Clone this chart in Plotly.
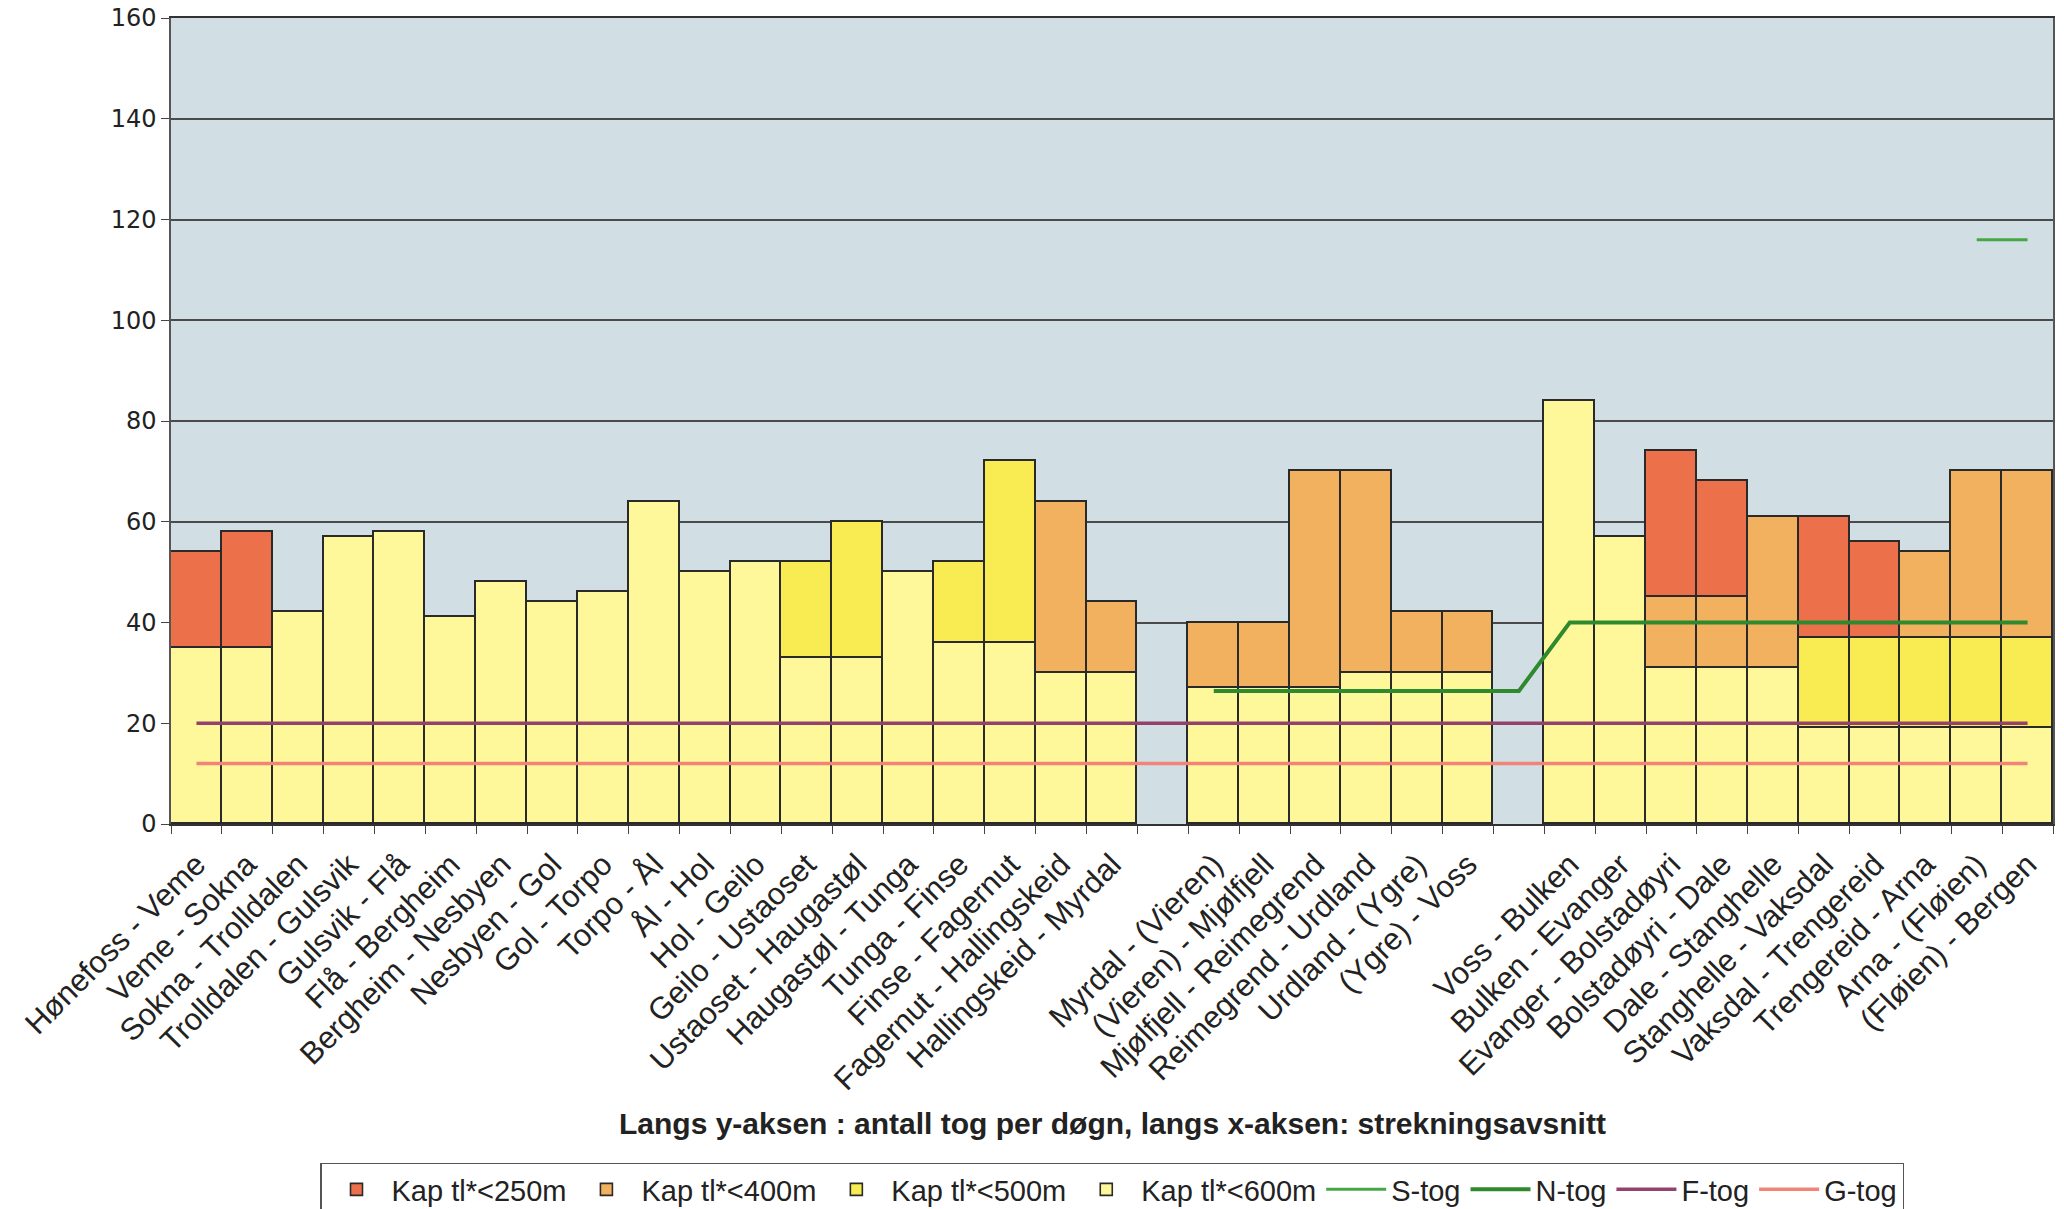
import plotly.graph_objects as go

# strekningsavsnitt (tomme kategorier = mellomrom i grafen)
strekninger = [
    "Hønefoss - Veme", "Veme - Sokna", "Sokna - Trolldalen", "Trolldalen - Gulsvik",
    "Gulsvik - Flå", "Flå - Bergheim", "Bergheim - Nesbyen", "Nesbyen - Gol",
    "Gol - Torpo", "Torpo - Ål", "Ål - Hol", "Hol - Geilo", "Geilo - Ustaoset",
    "Ustaoset - Haugastøl", "Haugastøl - Tunga", "Tunga - Finse", "Finse - Fagernut",
    "Fagernut - Hallingskeid", "Hallingskeid - Myrdal", " ",
    "Myrdal - (Vieren)", "(Vieren) - Mjølfjell", "Mjølfjell - Reimegrend",
    "Reimegrend - Urdland", "Urdland - (Ygre)", "(Ygre) - Voss", "  ",
    "Voss - Bulken", "Bulken - Evanger", "Evanger - Bolstadøyri", "Bolstadøyri - Dale",
    "Dale - Stanghelle", "Stanghelle - Vaksdal", "Vaksdal - Trengereid",
    "Trengereid - Arna", "Arna - (Fløien)", "(Fløien) - Bergen",
]

N = None
# segmenthøyder, nederst til øverst
kap600 = [35, 35, 42, 57, 58, 41, 48, 44, 46, 64, 50, 52, 33, 33, 50, 36, 36, 30, 30, N,
          27, 27, 27, 30, 30, 30, N, 84, 57, 31, 31, 31, 19, 19, 19, 19, 19]
kap500 = [N, N, N, N, N, N, N, N, N, N, N, N, 19, 27, N, 16, 36, N, N, N,
          N, N, N, N, N, N, N, N, N, N, N, N, 18, 18, 18, 18, 18]
kap400 = [N, N, N, N, N, N, N, N, N, N, N, N, N, N, N, N, N, 34, 14, N,
          13, 13, 43, 40, 12, 12, N, N, N, 14, 14, 30, N, N, 17, 33, 33]
kap250 = [19, 23, N, N, N, N, N, N, N, N, N, N, N, N, N, N, N, N, N, N,
          N, N, N, N, N, N, N, N, N, 29, 23, N, 24, 19, N, N, N]

s_tog = [N] * 35 + [116, 116]
n_tog = [N] * 20 + [26.4] * 7 + [40] * 10
f_tog = [20] * 37
g_tog = [12] * 37

fig = go.Figure()

bar_style = [
    ("Kap tl*<600m", kap600, "#FFF89A", 4),
    ("Kap tl*<500m", kap500, "#F8EC52", 3),
    ("Kap tl*<400m", kap400, "#F2B15E", 2),
    ("Kap tl*<250m", kap250, "#EC714A", 1),
]
for navn, verdier, farge, rank in bar_style:
    fig.add_trace(go.Bar(
        x=strekninger, y=verdier, name=navn, legendrank=rank,
        marker=dict(color=farge, line=dict(color="#2a2a2a", width=1.6)),
    ))

line_style = [
    ("S-tog", s_tog, "#45A845", 3, 5),
    ("N-tog", n_tog, "#2F8A2F", 4, 6),
    ("F-tog", f_tog, "#93426C", 3.5, 7),
    ("G-tog", g_tog, "#F2837A", 3.5, 8),
]
for navn, verdier, farge, bredde, rank in line_style:
    fig.add_trace(go.Scatter(
        x=strekninger, y=verdier, name=navn, legendrank=rank, mode="lines",
        line=dict(color=farge, width=bredde), connectgaps=False,
    ))

fig.add_annotation(
    text="<b>Langs y-aksen : antall tog per døgn, langs x-aksen: strekningsavsnitt</b>",
    xref="paper", yref="paper", x=0.5, y=-0.371, xanchor="center", yanchor="middle",
    showarrow=False, font=dict(family="Liberation Sans, Arial", size=30, color="#222"),
)

fig.update_layout(
    width=2064, height=1209,
    margin=dict(l=171, r=11, t=18, b=385, autoexpand=False),
    barmode="stack", bargap=0,
    paper_bgcolor="white", plot_bgcolor="#D1DFE4",
    font=dict(family="Liberation Sans, Arial", color="#222"),
    legend=dict(
        orientation="h", x=0.5, xanchor="center", y=-0.42, yanchor="top",
        bgcolor="white", bordercolor="#555", borderwidth=1.5,
        font=dict(size=29, family="Liberation Sans, Arial"), itemwidth=60,
        traceorder="normal",
    ),
    showlegend=True,
)
fig.update_yaxes(
    range=[0, 160], tickvals=list(range(0, 161, 20)),
    showgrid=True, gridcolor="#4a4a4a", gridwidth=1.5,
    ticks="outside", ticklen=8, tickcolor="#444",
    showline=True, linecolor="#555", linewidth=1.5, mirror=True,
    tickfont=dict(family="DejaVu Sans", size=24, color="#222"),
    ticklabeloverflow="allow",
    zeroline=False, automargin=False,
)
fig.update_xaxes(
    type="category", tickson="boundaries", ticks="outside", ticklen=8, tickcolor="#444",
    tickangle=-45, showline=True, linecolor="#333", linewidth=2, mirror=True,
    tickfont=dict(family="Liberation Sans, Arial", size=31, color="#222"),
    ticklabelstandoff=8, automargin=False,
)

# fjerner standard 8px marg rundt siden, og skjuler verktøylinjen
fig.write_html("out.html", config={"displayModeBar": False},
               post_script="document.body.style.margin='0';")
